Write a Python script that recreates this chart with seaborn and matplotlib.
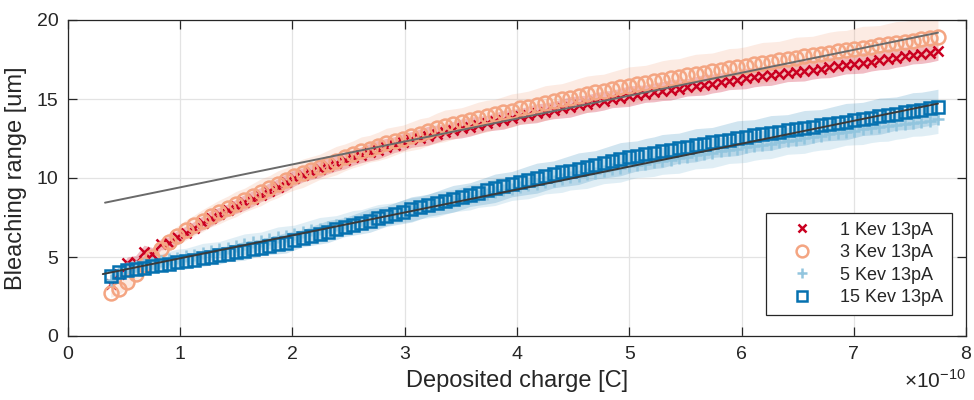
import numpy as np
import pandas as pd
import matplotlib
matplotlib.use("Agg")
import matplotlib.pyplot as plt
import seaborn as sns

# Deposited charge grid, in units of 1e-10 C
charge = np.linspace(0.38, 7.75, 100)

series_names = ["1 Kev 13pA", "3 Kev 13pA", "5 Kev 13pA", "15 Kev 13pA"]

# Mean bleaching range [um] per beam energy
range_1kev = [3.3, 3.9, 4.6, 4.7, 5.3, 5.2, 5.8, 5.9, 6.25, 6.55,
              6.85, 7.15, 7.45, 7.7, 7.95, 8.2, 8.45, 8.7, 8.95, 9.2,
              9.45, 9.72, 10.0, 10.2, 10.4, 10.58, 10.76, 10.94, 11.12, 11.3,
              11.47, 11.64, 11.8, 11.96, 12.12, 12.28, 12.44, 12.56, 12.68, 12.8,
              12.92, 13.03, 13.14, 13.25, 13.36, 13.47, 13.58, 13.69, 13.8, 13.9,
              14.0, 14.1, 14.2, 14.3, 14.4, 14.5, 14.6, 14.7, 14.8, 14.9,
              15.0, 15.09, 15.18, 15.26, 15.34, 15.42, 15.5, 15.58, 15.66, 15.74,
              15.82, 15.9, 15.98, 16.06, 16.14, 16.22, 16.3, 16.37, 16.44, 16.51,
              16.58, 16.65, 16.72, 16.79, 16.86, 16.93, 17.0, 17.07, 17.14, 17.21,
              17.29, 17.37, 17.45, 17.53, 17.61, 17.69, 17.77, 17.85, 17.93, 18.05]
range_3kev = [2.75, 3.0, 3.4, 3.9, 4.5, 5.0, 5.5, 5.95, 6.35, 6.7,
              7.0, 7.3, 7.6, 7.85, 8.1, 8.35, 8.6, 8.85, 9.1, 9.35,
              9.6, 9.85, 10.1, 10.3, 10.5, 10.7, 10.9, 11.1, 11.3, 11.5,
              11.7, 11.85, 12.0, 12.2, 12.35, 12.5, 12.65, 12.8, 12.95, 13.15,
              13.3, 13.42, 13.55, 13.67, 13.8, 13.92, 14.03, 14.15, 14.27, 14.4,
              14.5, 14.62, 14.74, 14.86, 14.97, 15.08, 15.2, 15.3, 15.42, 15.52,
              15.63, 15.73, 15.83, 15.93, 16.03, 16.12, 16.22, 16.31, 16.4, 16.5,
              16.58, 16.67, 16.76, 16.85, 16.94, 17.02, 17.11, 17.2, 17.28, 17.36,
              17.45, 17.53, 17.61, 17.69, 17.77, 17.85, 17.93, 18.01, 18.09, 18.17,
              18.25, 18.32, 18.4, 18.48, 18.55, 18.63, 18.7, 18.78, 18.85, 18.93]
range_5kev = [3.55, 4.0, 4.3, 4.45, 4.55, 4.65, 4.75, 4.85, 4.95, 5.05,
              5.15, 5.26, 5.37, 5.48, 5.59, 5.7, 5.81, 5.92, 6.03, 6.14,
              6.25, 6.36, 6.47, 6.58, 6.69, 6.8, 6.91, 7.02, 7.13, 7.24,
              7.35, 7.46, 7.57, 7.68, 7.79, 7.9, 8.01, 8.12, 8.23, 8.34,
              8.45, 8.56, 8.67, 8.78, 8.89, 9.0, 9.11, 9.22, 9.33, 9.44,
              9.54, 9.64, 9.74, 9.84, 9.94, 10.04, 10.14, 10.24, 10.34, 10.44,
              10.54, 10.64, 10.74, 10.83, 10.91, 11.0, 11.08, 11.17, 11.25, 11.34,
              11.43, 11.51, 11.6, 11.68, 11.77, 11.85, 11.94, 12.02, 12.1, 12.18,
              12.26, 12.35, 12.43, 12.51, 12.59, 12.67, 12.76, 12.84, 12.92, 13.0,
              13.07, 13.14, 13.21, 13.28, 13.35, 13.42, 13.49, 13.56, 13.63, 13.72]
range_15kev = [3.8, 4.05, 4.15, 4.25, 4.33, 4.42, 4.5, 4.58, 4.66, 4.74,
               4.82, 4.91, 5.0, 5.1, 5.2, 5.3, 5.4, 5.5, 5.6, 5.7,
               5.8, 5.9, 6.05, 6.19, 6.33, 6.47, 6.61, 6.75, 6.89, 7.03,
               7.17, 7.31, 7.45, 7.59, 7.73, 7.87, 8.01, 8.14, 8.28, 8.41,
               8.55, 8.68, 8.81, 8.95, 9.08, 9.21, 9.35, 9.48, 9.61, 9.74,
               9.87, 9.99, 10.11, 10.23, 10.35, 10.47, 10.59, 10.71, 10.83, 10.95,
               11.07, 11.19, 11.3, 11.4, 11.5, 11.6, 11.7, 11.8, 11.89, 11.98,
               12.07, 12.16, 12.25, 12.34, 12.43, 12.52, 12.61, 12.69, 12.77, 12.85,
               12.93, 13.01, 13.09, 13.17, 13.25, 13.33, 13.41, 13.49, 13.57, 13.65,
               13.74, 13.82, 13.91, 13.99, 14.08, 14.16, 14.25, 14.33, 14.42, 14.52]

# Standard deviation of the bleaching range [um]
std_1kev = [0.3, 0.35, 0.4, 0.4, 0.45, 0.4, 0.35, 0.4, 0.45, 0.4,
            0.4, 0.45, 0.5, 0.45, 0.4, 0.45, 0.5, 0.5, 0.45, 0.5,
            0.5, 0.55, 0.5, 0.45, 0.5, 0.55, 0.5, 0.5, 0.55, 0.5,
            0.5, 0.55, 0.6, 0.55, 0.5, 0.55, 0.5, 0.55, 0.6, 0.55,
            0.5, 0.55, 0.6, 0.6, 0.55, 0.5, 0.55, 0.6, 0.55, 0.5,
            0.55, 0.6, 0.55, 0.55, 0.6, 0.65, 0.6, 0.55, 0.6, 0.6,
            0.55, 0.6, 0.65, 0.6, 0.55, 0.6, 0.6, 0.65, 0.6, 0.55,
            0.6, 0.65, 0.6, 0.6, 0.55, 0.6, 0.65, 0.6, 0.6, 0.65,
            0.6, 0.55, 0.6, 0.65, 0.6, 0.6, 0.65, 0.6, 0.55, 0.6,
            0.65, 0.6, 0.6, 0.65, 0.6, 0.6, 0.55, 0.6, 0.6, 0.6]
std_3kev = [0.3, 0.35, 0.4, 0.45, 0.5, 0.5, 0.55, 0.6, 0.6, 0.65,
            0.65, 0.7, 0.7, 0.75, 0.75, 0.8, 0.75, 0.8, 0.85, 0.8,
            0.85, 0.8, 0.85, 0.9, 0.85, 0.8, 0.85, 0.9, 0.85, 0.85,
            0.9, 0.85, 0.9, 0.95, 0.9, 0.85, 0.9, 0.95, 0.9, 0.95,
            1.0, 0.95, 0.9, 0.95, 1.0, 1.0, 0.95, 1.0, 1.05, 1.0,
            1.0, 1.05, 1.1, 1.05, 1.0, 1.05, 1.1, 1.15, 1.1, 1.05,
            1.1, 1.15, 1.2, 1.15, 1.1, 1.15, 1.2, 1.2, 1.15, 1.2,
            1.25, 1.2, 1.15, 1.2, 1.25, 1.2, 1.2, 1.25, 1.3, 1.25,
            1.2, 1.25, 1.3, 1.25, 1.2, 1.25, 1.3, 1.3, 1.25, 1.3,
            1.35, 1.3, 1.25, 1.3, 1.35, 1.3, 1.3, 1.35, 1.3, 1.3]
std_5kev = [0.3, 0.4, 0.45, 0.4, 0.45, 0.5, 0.45, 0.5, 0.55, 0.5,
            0.55, 0.6, 0.55, 0.5, 0.55, 0.6, 0.65, 0.6, 0.55, 0.6,
            0.65, 0.6, 0.55, 0.6, 0.65, 0.7, 0.65, 0.6, 0.65, 0.7,
            0.65, 0.7, 0.75, 0.7, 0.65, 0.7, 0.75, 0.7, 0.75, 0.8,
            0.75, 0.7, 0.75, 0.8, 0.75, 0.8, 0.85, 0.8, 0.75, 0.8,
            0.85, 0.8, 0.75, 0.8, 0.85, 0.8, 0.85, 0.9, 0.85, 0.8,
            0.85, 0.9, 0.85, 0.8, 0.85, 0.9, 0.85, 0.9, 0.95, 0.9,
            0.85, 0.9, 0.95, 0.9, 0.85, 0.9, 0.95, 0.9, 0.9, 0.95,
            0.9, 0.85, 0.9, 0.95, 0.9, 0.9, 0.95, 0.9, 0.85, 0.9,
            0.95, 0.9, 0.9, 0.95, 0.9, 0.9, 0.85, 0.9, 0.9, 0.9]
std_15kev = [0.3, 0.35, 0.35, 0.4, 0.35, 0.4, 0.45, 0.4, 0.45, 0.5,
             0.45, 0.5, 0.5, 0.55, 0.5, 0.55, 0.6, 0.55, 0.5, 0.55,
             0.6, 0.65, 0.6, 0.55, 0.6, 0.65, 0.7, 0.65, 0.6, 0.65,
             0.7, 0.75, 0.7, 0.65, 0.7, 0.75, 0.8, 0.75, 0.7, 0.75,
             0.8, 0.85, 0.8, 0.75, 0.8, 0.85, 0.9, 0.85, 0.8, 0.85,
             0.9, 0.95, 0.9, 0.85, 0.9, 0.95, 1.0, 0.95, 0.9, 0.95,
             1.0, 1.05, 1.0, 0.95, 1.0, 1.0, 1.05, 1.0, 0.95, 1.0,
             1.05, 1.0, 0.95, 1.0, 1.05, 1.1, 1.05, 1.0, 1.05, 1.1,
             1.05, 1.0, 1.05, 1.1, 1.05, 1.0, 1.05, 1.1, 1.15, 1.1,
             1.05, 1.1, 1.15, 1.1, 1.05, 1.1, 1.15, 1.1, 1.1, 1.1]

# Linear fits: (slope [um per 1e-10 C], intercept [um], start of fit range)
fit_high = (1.45, 7.96, 0.33)
fit_low = (1.45, 3.47, 0.31)
fit_end = 7.75

colors = ["#CA0020", "#F4A582", "#92C5DE", "#0571B0"]
markers = ["x", "o", "+", "s"]
msizes = [7, 10, 9, 8.5]
band_alpha = [0.26, 0.22, 0.28, 0.18]
fit_colors = ["#6a6a6a", "#3a3a3a"]

means = [range_1kev, range_3kev, range_5kev, range_15kev]
stds = [std_1kev, std_3kev, std_5kev, std_15kev]

df = pd.concat(
    [pd.DataFrame({"charge": charge, "range": m, "std": s, "series": n})
     for m, s, n in zip(means, stds, series_names)],
    ignore_index=True,
)

sns.set_theme(style="white")
plt.rcParams["font.family"] = ["Liberation Sans", "DejaVu Sans"]
plt.rcParams["mathtext.fontset"] = "custom"
plt.rcParams["mathtext.rm"] = "Liberation Sans"

fig = plt.figure(figsize=(9.74, 4.0), dpi=100)
ax = fig.add_axes([0.0698, 0.16, 0.9220, 0.79])

# Shaded +/- one standard deviation bands
for name, color, a in zip(series_names, colors, band_alpha):
    d = df[df["series"] == name]
    ax.fill_between(d["charge"], d["range"] - d["std"], d["range"] + d["std"],
                    color=color, alpha=a, linewidth=0, zorder=1)

# Mean values as markers
for name, color, mk, ms in zip(series_names, colors, markers, msizes):
    d = df[df["series"] == name]
    sns.lineplot(data=d, x="charge", y="range", ax=ax, label=name,
                 linestyle="", marker=mk, markersize=ms,
                 markerfacecolor="none" if mk in ("o", "s") else color,
                 markeredgecolor=color, markeredgewidth=1.8,
                 errorbar=None, zorder=3)

# Linear fit lines
for (slope, icpt, x0), fc in zip((fit_high, fit_low), fit_colors):
    xf = np.array([x0, fit_end])
    ax.plot(xf, slope * xf + icpt, color=fc, linewidth=1.4, zorder=4)

ax.set_xlim(0, 8)
ax.set_ylim(0, 20)
ax.set_xticks(range(0, 9))
ax.set_yticks([0, 5, 10, 15, 20])
ax.grid(True, color="#e3e3e3", linewidth=0.9)
ax.set_axisbelow(True)
for sp in ax.spines.values():
    sp.set_color("#262626")
    sp.set_linewidth(0.9)
ax.tick_params(axis="both", which="major", direction="in", length=6.5,
               width=0.9, color="#262626", labelsize=14, labelcolor="#262626",
               top=True, right=True, bottom=True, left=True, pad=7)

ax.set_xlabel("Deposited charge [C]", fontsize=17, color="#262626", labelpad=5)
ax.set_ylabel("Bleaching range [um]", fontsize=17, color="#262626", labelpad=7)
fig.text(0.992, 0.03, r"$\times$10$^{\mathrm{-10}}$", ha="right", va="baseline",
         fontsize=15, color="#262626")

leg = ax.legend(loc="lower right", bbox_to_anchor=(0.9844, 0.0665),
                frameon=True, fancybox=False, framealpha=1, edgecolor="#262626",
                fontsize=13, borderpad=0.5, handlelength=3.0, handletextpad=0.6,
                labelspacing=0.3, borderaxespad=0, markerscale=0.85)
leg.get_frame().set_linewidth(0.9)

fig.savefig("out.png", dpi=100)
